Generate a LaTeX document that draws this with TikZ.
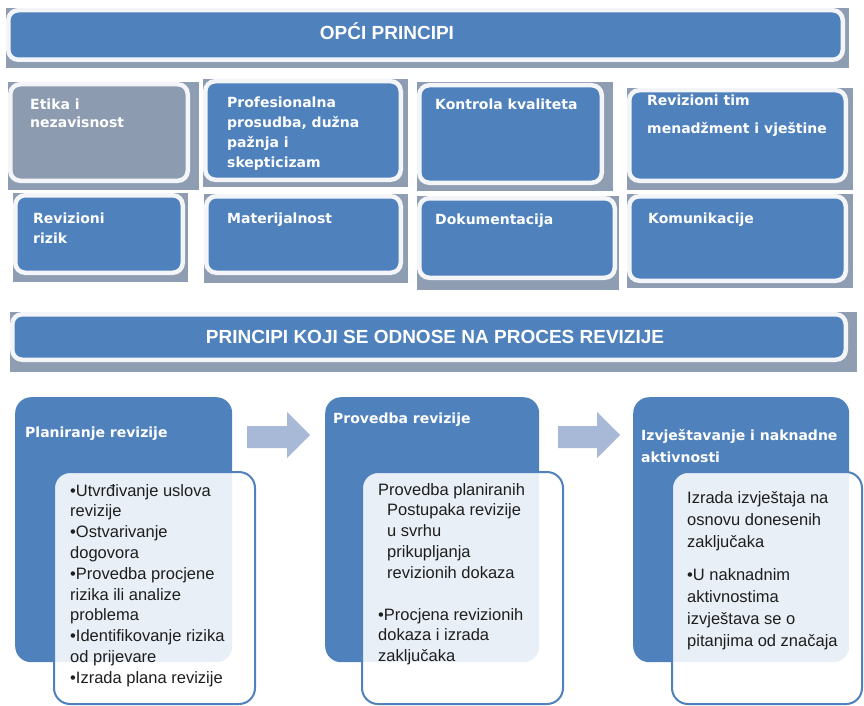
\documentclass[tikz,border=0pt]{standalone}
\usepackage{fontspec}
\setmainfont{Liberation Sans}
\newfontfamily\headfont{DejaVu Sans}
\usepackage{xcolor}
\usepackage{tikz}
\usetikzlibrary{positioning}

\definecolor{boxblue}{RGB}{79,129,189}
\definecolor{boxgray}{RGB}{141,155,176}
\definecolor{shadegray}{RGB}{143,157,178}
\definecolor{rimwhite}{RGB}{243,245,248}
\definecolor{arrowblue}{RGB}{167,185,214}
\definecolor{listgray}{RGB}{30,30,30}

\tikzset{
  banner/.style={rounded corners=10pt, fill=boxblue, draw=rimwhite, line width=4.5pt, inner sep=0pt, anchor=north west},
  bannertext/.style={text=white, font=\bfseries\fontsize{19}{22}\selectfont, inner sep=0pt, anchor=base},
  boxtext/.style={text=white, font=\headfont\bfseries\fontsize{14}{18}\selectfont, align=left, inner sep=0pt, anchor=north west},
  stepbox/.style={rounded corners=16pt, fill=boxblue, inner sep=0pt, anchor=north west},
  listbox/.style={rounded corners=16pt, draw=boxblue, line width=2pt, fill=white, fill opacity=0.88, inner sep=0pt, anchor=north west},
  listtext/.style={text=listgray, font=\fontsize{16.5}{20.8}\selectfont, align=left, inner sep=0pt, anchor=north west},
  steparrow/.style={fill=arrowblue},
}

\begin{document}
\begin{tikzpicture}[x=1pt, y=-1pt]
\useasboundingbox (0,0) rectangle (864,706);
\fill[white] (0,0) rectangle (864,706);

% general principles
\fill[shadegray] (6,8) rectangle (849,68);
\node[banner, minimum width=834.5pt, minimum height=49.5pt] (opci) at (6,8) {};
\node[bannertext] (opcitext) at (387,40) {OPĆI PRINCIPI};

\fill[shadegray] (8,82) rectangle (199,190);
\node[banner, fill=boxgray, minimum width=177.5pt, minimum height=96.5pt] (etika) at (8,82) {};
\node[boxtext] (etikatext) at (30,98.4) {Etika i\\nezavisnost};

\fill[shadegray] (203,79) rectangle (408,187);
\node[banner, minimum width=195.5pt, minimum height=98.5pt] (prosudba) at (203,79) {};
\node[boxtext] (prosudbatext) at (227,96.4) {Profesionalna\\[2pt]prosudba, dužna\\[2pt]pažnja i\\[2pt]skepticizam};

\fill[shadegray] (417,82) rectangle (613,191);
\node[banner, minimum width=182.5pt, minimum height=97.5pt] (kontrola) at (417,83) {};
\node[boxtext] (kontrolatext) at (435,98.4) {Kontrola kvaliteta};

\fill[shadegray] (627,88) rectangle (853,190);
\node[banner, minimum width=216.5pt, minimum height=90.5pt] (tim) at (627,88) {};
\node[boxtext] (timtext) at (647,94.4) {Revizioni tim\\[10pt]menadžment i vještine};

\fill[shadegray] (13,193) rectangle (188,282);
\node[banner, minimum width=167.5pt, minimum height=77.5pt] (rizik) at (13,193) {};
\node[boxtext] (riziktext) at (33,212.4) {Revizioni\\[2pt]rizik};

\fill[shadegray] (204,194) rectangle (408,283);
\node[banner, minimum width=194.5pt, minimum height=76.5pt] (materijalnost) at (204,194) {};
\node[boxtext] (materijalnosttext) at (227,212.4) {Materijalnost};

\fill[shadegray] (417,196) rectangle (619,290);
\node[banner, minimum width=195.5pt, minimum height=79.5pt] (dokumentacija) at (417,196) {};
\node[boxtext] (dokumentacijatext) at (435,213.4) {Dokumentacija};

\fill[shadegray] (627,194) rectangle (853,288);
\node[banner, minimum width=216.5pt, minimum height=84.5pt] (komunikacije) at (627,194) {};
\node[boxtext] (komunikacijetext) at (648,212.4) {Komunikacije};

% process principles
\fill[shadegray] (10,312) rectangle (857,372);
\node[banner, minimum width=833.5pt, minimum height=45.5pt] (proces) at (10,312) {};
\node[bannertext] (procestext) at (435,343) {PRINCIPI KOJI SE ODNOSE NA PROCES REVIZIJE};

\node[stepbox, minimum width=217pt, minimum height=265pt] (plan) at (15,397) {};
\node[listbox, minimum width=201pt, minimum height=232pt] (planlist) at (53,471) {};
\node[boxtext] (plantext) at (25,426.4) {Planiranje revizije};
\node[listtext] (planitems) at (70,484) {•Utvrđivanje uslova\\revizije\\•Ostvarivanje\\dogovora\\•Provedba procjene\\rizika ili analize\\problema\\•Identifikovanje rizika\\od prijevare\\•Izrada plana revizije};

\node[stepbox, minimum width=214pt, minimum height=265pt] (provedba) at (325,397) {};
\node[listbox, minimum width=201pt, minimum height=232pt] (provedbalist) at (361,471) {};
\node[boxtext] (provedbatext) at (333,412.4) {Provedba revizije};
\node[listtext] (provedbaitems) at (378,483) {Provedba planiranih\\\hspace*{9pt}Postupaka revizije\\\hspace*{9pt}u svrhu\\\hspace*{9pt}prikupljanja\\\hspace*{9pt}revizionih dokaza\\[21pt]•Procjena revizionih\\dokaza i izrada\\zaključaka};

\node[stepbox, minimum width=216pt, minimum height=265pt] (izvjestaj) at (633,397) {};
\node[listbox, minimum width=190pt, minimum height=232pt] (izvjestajlist) at (671,471) {};
\node[boxtext] (izvjestajtext) at (641,429.4) {Izvještavanje i naknadne\\[4pt]aktivnosti};
\node[listtext, font=\fontsize{16.5}{22}\selectfont] (izvjestajitems) at (687,491) {Izrada izvještaja na\\osnovu donesenih\\zaključaka\\[11pt]•U naknadnim\\aktivnostima\\izvještava se o\\pitanjima od značaja};

\fill[steparrow] (247,426) -- (287,426) -- (287,412) -- (310,435) -- (287,458) -- (287,448) -- (247,448) -- cycle;
\fill[steparrow] (558,426) -- (597,426) -- (597,412) -- (620,435) -- (597,458) -- (597,448) -- (558,448) -- cycle;
\end{tikzpicture}
\end{document}
